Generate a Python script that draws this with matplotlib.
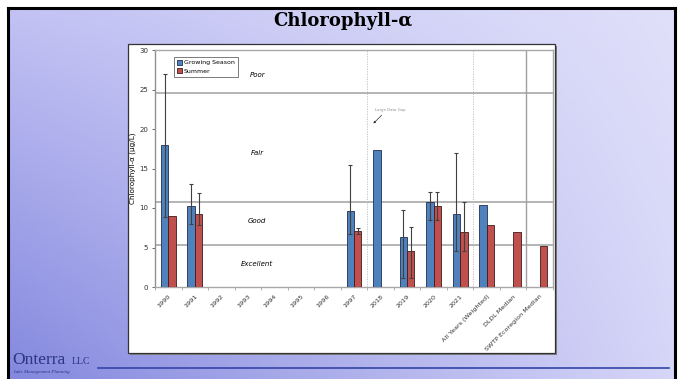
import numpy as np
import matplotlib
matplotlib.use("Agg")
import matplotlib.pyplot as plt
from matplotlib.patches import Rectangle
from matplotlib.lines import Line2D

nan = np.nan
categories = ["1990", "1991", "1992", "1993", "1994", "1995", "1996", "1997",
              "2018", "2019", "2020", "2021", "All Years (Weighted)",
              "DLDL Median", "SWTP Ecoregion Median"]
growing = [18.0, 10.2, nan, nan, nan, nan, nan, 9.6, 17.3, 6.3, 10.7, 9.2, 10.4, nan, nan]
growing_lo = [8.9, 8.0, nan, nan, nan, nan, nan, 6.7, nan, 1.1, 8.5, 4.5, nan, nan, nan]
growing_hi = [27.0, 13.0, nan, nan, nan, nan, nan, 15.4, nan, 9.8, 12.0, 17.0, nan, nan, nan]
summer = [9.0, 9.3, nan, nan, nan, nan, nan, 7.1, nan, 4.5, 10.3, 6.9, 7.8, 6.9, 5.2]
summer_lo = [nan, 7.9, nan, nan, nan, nan, nan, 6.7, nan, 1.1, 8.5, 4.5, nan, nan, nan]
summer_hi = [nan, 11.9, nan, nan, nan, nan, nan, 7.5, nan, 7.6, 12.0, 10.7, nan, nan, nan]
zone_lines = [5.3, 10.8, 24.6]
zone_labels = ["Excellent", "Good", "Fair", "Poor"]
zone_label_y = [2.9, 8.3, 17.0, 26.8]

W, H = 682, 379
fig = plt.figure(figsize=(W / 100, H / 100), dpi=100)

def fx(x): return x / W
def fy(y): return 1 - y / H

# background gradient
bg = fig.add_axes([0, 0, 1, 1], zorder=0)
bg.set_axis_off()
c_tl = np.array([194, 194, 244]) / 255
c_tr = np.array([224, 224, 250]) / 255
c_bl = np.array([132, 136, 222]) / 255
c_br = np.array([214, 214, 248]) / 255
nx, ny = 200, 120
u = np.linspace(0, 1, nx)[None, :, None]
v = np.linspace(0, 1, ny)[:, None, None]
img = (1 - u) * (1 - v) * c_tl + u * (1 - v) * c_tr + (1 - u) * v * c_bl + u * v * c_br
bg.imshow(img, extent=[fx(8), fx(675), 0, fy(8)], aspect='auto', origin='upper')
bg.set_xlim(0, 1); bg.set_ylim(0, 1)
bg.add_line(Line2D([fx(8), fx(675)], [fy(8), fy(8)], color='black', lw=2.2, zorder=3))
bg.add_line(Line2D([fx(8), fx(8)], [fy(8), 0], color='black', lw=2.2, zorder=3))
bg.add_line(Line2D([fx(675), fx(675)], [fy(8), 0], color='black', lw=2.2, zorder=3))
# chart white box with shadow
bg.add_patch(Rectangle((fx(130), fy(355)), fx(555) - fx(128), fy(44) - fy(353),
                       facecolor='#808080', edgecolor='none', zorder=2))
bg.add_patch(Rectangle((fx(128), fy(353)), fx(555) - fx(128), fy(44) - fy(353),
                       facecolor='white', edgecolor='#333333', lw=0.9, zorder=3))
bg.text(fx(343), fy(21), "Chlorophyll-α", ha='center', va='center',
        fontsize=13, fontweight='bold', family='DejaVu Serif', color='black', zorder=4)
# footer
bg.text(fx(12), fy(364), "Onterra", ha='left', va='baseline', fontsize=12.5,
        family='Liberation Serif', color='#2b3580', zorder=4)
bg.text(fx(72), fy(364), "LLC", ha='left', va='baseline', fontsize=7,
        family='Liberation Serif', color='#2b3580', zorder=4)
bg.text(fx(13), fy(373), "Lake Management Planning", ha='left', va='baseline', fontsize=3.6,
        family='Liberation Serif', style='italic', color='#2b3580', zorder=4)
bg.add_line(Line2D([fx(98), fx(669)], [fy(368), fy(368)], color='#3444a8', lw=1.2, zorder=4))

# chart axes
ax = fig.add_axes([fx(155), fy(287), fx(553) - fx(155), fy(50) - fy(287)], zorder=5)
ax.set_facecolor('white')
n = len(categories)
x = np.arange(n)
bw = 0.28
blue, red = '#4f81bd', '#c0504d'
g = np.array(growing); s = np.array(summer)
ax.bar(x - bw / 2, g, bw, color=blue, edgecolor='#1f2f4f', lw=0.6, label='Growing Season', zorder=3)
ax.bar(x + bw / 2, s, bw, color=red, edgecolor='#3f1a1a', lw=0.6, label='Summer', zorder=3)
for xs, vals, lo, hi in [(x - bw / 2, g, growing_lo, growing_hi), (x + bw / 2, s, summer_lo, summer_hi)]:
    lo = np.array(lo); hi = np.array(hi)
    m = ~np.isnan(lo)
    ax.errorbar(xs[m], vals[m], yerr=[vals[m] - lo[m], hi[m] - vals[m]], fmt='none',
                ecolor='#404040', elinewidth=0.8, capsize=1.5, capthick=0.8, zorder=4)

ax.set_xlim(-0.5, n - 0.5)
ax.set_ylim(0, 30)
for yv in zone_lines:
    ax.axhline(yv, color='#a0a0a0', lw=1.1, zorder=1)
ax.axvline(7.5, color='#bbbbbb', lw=0.6, ls=(0, (1.5, 1.5)), zorder=1)
ax.axvline(11.5, color='#bbbbbb', lw=0.6, ls=(0, (1.5, 1.5)), zorder=1)
ax.axvline(13.5, color='#a0a0a0', lw=1.0, zorder=1)
for sp in ax.spines.values():
    sp.set_color('#a8a8a8'); sp.set_linewidth(1.0)
ax.spines['left'].set_color('#909090')

for lab, yv in zip(zone_labels, zone_label_y):
    ax.text(3.35, yv, lab, ha='center', va='center', fontsize=5, style='italic', color='black')
ax.annotate("Large Data Gap", xy=(7.73, 20.7), xytext=(7.8, 22.35), fontsize=2.8, color='#909090',
            va='center', ha='left',
            arrowprops=dict(arrowstyle='-|>', color='#303030', lw=0.5, mutation_scale=3,
                            shrinkA=0, shrinkB=0, relpos=(0.3, 0)))

ax.set_yticks(np.arange(0, 31, 5))
ax.tick_params(axis='y', labelsize=5, colors='#303030', length=2, width=0.5, pad=3)
ax.set_xticks(x)
ax.set_xticklabels(categories, rotation=45, ha='right', rotation_mode='anchor', fontsize=4.6, color='#303030')
ax.tick_params(axis='x', length=0, pad=5)
ax.set_xticks(np.arange(-0.5, n, 1), minor=True)
ax.tick_params(axis='x', which='minor', length=2, width=0.5, color='#909090')
ax.set_ylabel("Chlorophyll-α (μg/L)", fontsize=5.2, color='black', labelpad=2)

leg = ax.legend(loc='upper left', bbox_to_anchor=(0.04, 0.985), fontsize=4.5, frameon=True,
                fancybox=False, handlelength=0.8, handleheight=0.8, handletextpad=0.3,
                borderpad=0.5, labelspacing=0.5)
leg.get_frame().set_edgecolor('#404040')
leg.get_frame().set_linewidth(0.6)

fig.savefig("out.png", dpi=100)
